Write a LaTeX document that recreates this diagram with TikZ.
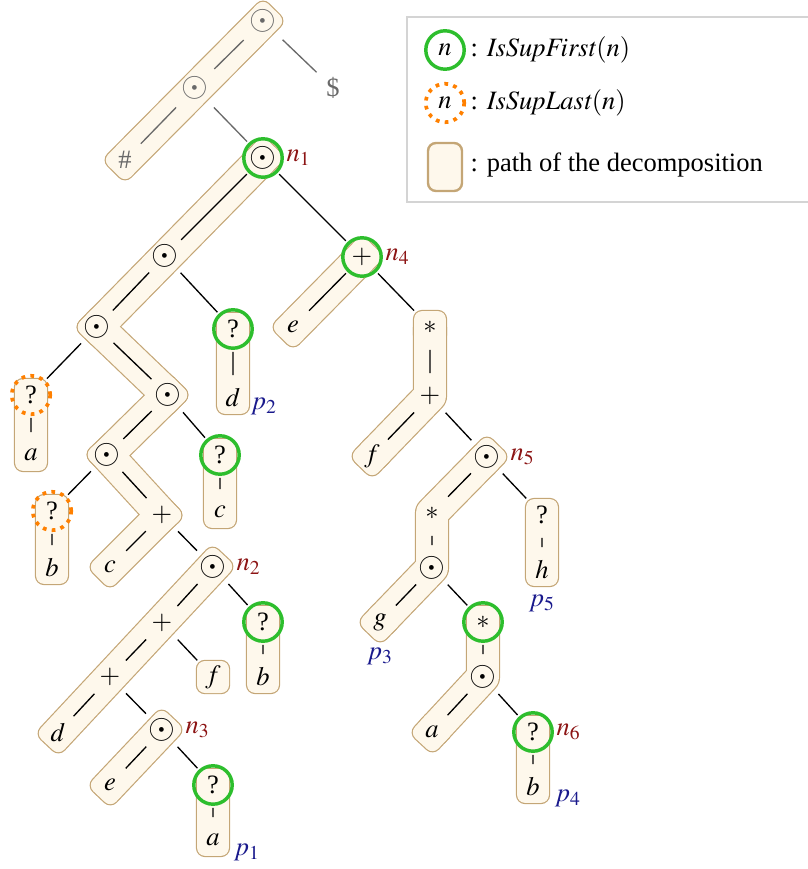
\documentclass[tikz,border=0pt]{standalone}
\usepackage{mathptmx}
\usepackage{fontspec}
\setmainfont{Liberation Serif}
\usetikzlibrary{calc,backgrounds}

\definecolor{bandfill}{RGB}{254,248,236}
\definecolor{bandline}{RGB}{196,166,118}
\definecolor{supgreen}{RGB}{45,190,45}
\definecolor{suporange}{RGB}{255,128,0}
\definecolor{nred}{RGB}{140,20,20}
\definecolor{pblue}{RGB}{25,25,140}
\definecolor{topgray}{RGB}{105,105,105}
\definecolor{boxgray}{RGB}{212,212,212}

\newcommand\opdot{\scalebox{1.3}{$\odot$}}
% half width of a decomposition band
\newcommand\bh{6pt}
% one straight piece of a band, from node #2 to node #3
\newcommand\bandseg[3]{%
  \path[#1] ($(#2)!-\bh!(#3)!\bh!90:(#3)$) -- ($(#2)!-\bh!(#3)!\bh!-90:(#3)$)
    -- ($(#3)!-\bh!(#2)!\bh!90:(#2)$) -- ($(#3)!-\bh!(#2)!\bh!-90:(#2)$) -- cycle;}
% rounded end of a bent band, at node #2, turned towards node #3
\newcommand\bandcap[3]{%
  \path[#1] ($(#2)!-\bh!(#3)!\bh!90:(#3)$) -- ($(#2)!-\bh!(#3)!\bh!-90:(#3)$)
    -- ($(#2)!\bh!(#3)!\bh!-90:(#3)$) -- ($(#2)!\bh!(#3)!\bh!90:(#3)$) -- cycle;}
\newcommand\bandsolo[2]{\path[#1] ($(#2)+(-16,-16)$) rectangle ($(#2)+(16,16)$);}
\newcommand\allbands[2]{%
  \bandseg{#1}{top}{hash}
  \bandseg{#1}{n1}{x2}
  \bandseg{#1}{x2}{x3}
  \bandseg{#1}{x3}{x4}
  \bandseg{#1}{x4}{x5}
  \bandseg{#1}{x5}{c3}
  \bandseg{#1}{q1}{d1}
  \bandseg{#1}{o1}{a1}
  \bandseg{#1}{q2}{c2}
  \bandseg{#1}{o2}{b2}
  \bandseg{#1}{n2}{d3}
  \bandseg{#1}{q3}{b3}
  \bandsolo{#1}{f3}
  \bandseg{#1}{n3}{e3}
  \bandseg{#1}{q4}{a4}
  \bandseg{#1}{n4}{e4}
  \bandseg{#1}{q5}{h5}
  \bandseg{#1}{n6}{b6}
  \draw[#2] (y1.center) -- (y2.center) -- (f4.center);
  \bandcap{#1}{y1}{y2} \bandcap{#1}{f4}{y2}
  \draw[#2] (n5.center) -- (y3.center) -- (y4.center) -- (g5.center);
  \bandcap{#1}{n5}{y3} \bandcap{#1}{g5}{y4}
  \draw[#2] (y5.center) -- (y6.center) -- (a6.center);
  \bandcap{#1}{y5}{y6} \bandcap{#1}{a6}{y6}}

\begin{document}
\begin{tikzpicture}[x=0.3774pt, y=-0.3774pt,
    tn/.style={circle, minimum size=14.5pt, inner sep=0pt, outer sep=1.4pt},
    first/.style={tn, draw=supgreen, line width=1.3pt},
    last/.style={tn, draw=suporange, line width=1.4pt, dash pattern=on 1.4pt off 2pt},
    faded/.style={circle, minimum size=10pt, inner sep=0pt, outer sep=3.6pt, text=topgray},
    fadededge/.style={draw=topgray},
    nlab/.style={text=nred, inner sep=0pt, anchor=west},
    plab/.style={text=pblue, inner sep=0pt},
    bandrim/.style={draw=bandline, line width=0.9pt, fill=bandfill, rounded corners=3pt},
    bandcore/.style={fill=bandfill, rounded corners=3pt},
    trunkrim/.style={draw=bandline, line width=12.9pt, line join=round},
    trunkcore/.style={draw=bandfill, line width=12pt, line join=round},
    line width=0.5pt]
	\useasboundingbox (0,0) rectangle (807,869);
	% grey part above the root
	\node[faded] (top) at (263,21) {\opdot};
	\node[faded] (cc) at (195,88) {\opdot};
	\node[faded] (hash) at (125,160) {\#};
	\node[faded] (dol) at (333,88) {\$};
	% left subtree
	\node[first] (n1) at (263,158) {\opdot};
	\node[tn] (x1) at (165,256) {\opdot};
	\node[tn] (x2) at (97,327) {\opdot};
	\node[first] (q1) at (233,329) {?};
	\node[tn] (d1) at (233,398) {$d$};
	\node[last] (o1) at (31,395) {?};
	\node[tn] (a1) at (31,455) {$a$};
	\node[tn] (x3) at (168,395) {\opdot};
	\node[tn] (x4) at (107,455) {\opdot};
	\node[first] (q2) at (220,455) {?};
	\node[tn] (c2) at (220,512) {$c$};
	\node[last] (o2) at (52,511) {?};
	\node[tn] (b2) at (52,568) {$b$};
	\node[tn] (x5) at (162,515) {$+$};
	\node[tn] (c3) at (110,567) {$c$};
	\node[tn] (n2) at (213,567) {\opdot};
	\node[tn] (x6) at (162,623) {$+$};
	\node[first] (q3) at (263,622) {?};
	\node[tn] (b3) at (263,677) {$b$};
	\node[tn] (x7) at (110,677) {$+$};
	\node[tn] (f3) at (213,677) {$f$};
	\node[tn] (d3) at (58,733) {$d$};
	\node[tn] (n3) at (162,730) {\opdot};
	\node[tn] (e3) at (110,785) {$e$};
	\node[first] (q4) at (213,785) {?};
	\node[tn] (a4) at (213,840) {$a$};
	% right subtree
	\node[first] (n4) at (362,257) {$+$};
	\node[tn] (e4) at (293,327) {$e$};
	\node[tn] (y1) at (430,327) {$*$};
	\node[tn] (y2) at (430,396) {$+$};
	\node[tn] (f4) at (372,456) {$f$};
	\node[tn] (n5) at (487,457) {\opdot};
	\node[tn] (y3) at (432,513) {$*$};
	\node[tn] (q5) at (542,515) {?};
	\node[tn] (h5) at (542,570) {$h$};
	\node[tn] (y4) at (432,568) {\opdot};
	\node[tn] (g5) at (380,622) {$g$};
	\node[first] (y5) at (483,622) {$*$};
	\node[tn] (y6) at (483,677) {\opdot};
	\node[tn] (a6) at (432,732) {$a$};
	\node[first] (n6) at (533,732) {?};
	\node[tn] (b6) at (533,787) {$b$};
	% names
	\node[nlab] (ln1) at (n1.east) {$n_1$};
	\node[nlab] (ln2) at (n2.east) {$n_2$};
	\node[nlab] (ln3) at (n3.east) {$n_3$};
	\node[nlab] (ln4) at (n4.east) {$n_4$};
	\node[nlab] (ln5) at (n5.east) {$n_5$};
	\node[nlab] (ln6) at (n6.east) {$n_6$};
	\node[plab] (p1) at (247,852) {$p_1$};
	\node[plab] (p2) at (264,406) {$p_2$};
	\node[plab] (p3) at (380,656) {$p_3$};
	\node[plab] (p4) at (568,798) {$p_4$};
	\node[plab] (p5) at (542,603) {$p_5$};
	% bands behind the nodes
	\begin{scope}[on background layer]
		\allbands{bandrim}{trunkrim}
		\allbands{bandcore}{trunkcore}
	\end{scope}
	\draw[fadededge] (top) -- (cc) -- (hash)
		(top) -- (dol)
		(cc) -- (n1);
	\draw (n1) -- (x1) -- (x2) -- (o1) -- (a1)
		(x1) -- (q1) -- (d1)
		(x2) -- (x3) -- (x4) -- (o2) -- (b2)
		(x3) -- (q2) -- (c2)
		(x4) -- (x5) -- (c3)
		(x5) -- (n2) -- (x6) -- (x7) -- (d3)
		(n2) -- (q3) -- (b3)
		(x6) -- (f3)
		(x7) -- (n3) -- (e3)
		(n3) -- (q4) -- (a4)
		(n1) -- (n4) -- (e4)
		(n4) -- (y1) -- (y2) -- (f4)
		(y2) -- (n5) -- (y3) -- (y4) -- (g5)
		(n5) -- (q5) -- (h5)
		(y4) -- (y5) -- (y6) -- (a6)
		(y6) -- (n6) -- (b6);
	% legend
	\draw[boxgray] (407,17) rectangle (812,202);
	\node[first] (kfirst) at (445,50) {$n$};
	\node[anchor=west, inner sep=0pt] (tfirst) at (470,50) {: $\mathit{IsSupFirst}(n)$};
	\node[last] (klast) at (445,103) {$n$};
	\node[anchor=west, inner sep=0pt] (tlast) at (470,103) {: $\mathit{IsSupLast}(n)$};
	\path[bandrim] (428,143) rectangle (462,191);
	\node[anchor=west, inner sep=0pt] (tpath) at (470,165) {: path of the decomposition};
\end{tikzpicture}
\end{document}
